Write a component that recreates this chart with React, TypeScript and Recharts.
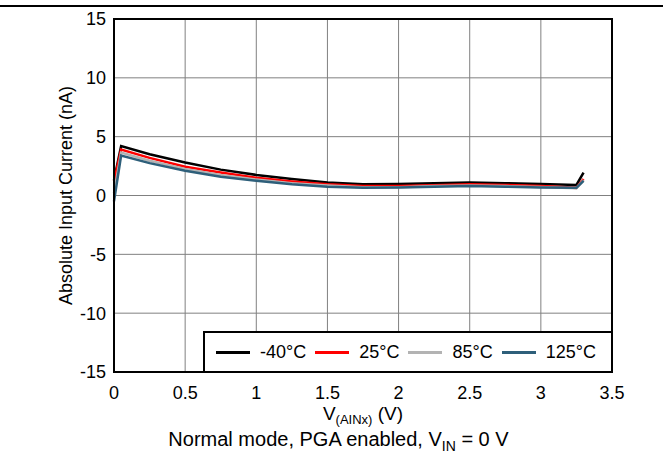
import { LineChart, Line, XAxis, YAxis, CartesianGrid } from 'recharts'

// V(AINx) sample points (V)
const VAIN = [0, 0.05, 0.25, 0.5, 0.75, 1, 1.25, 1.5, 1.75, 2, 2.25, 2.5, 2.75, 3, 3.25, 3.3]

// absolute input current (nA) per temperature
const I_M40 = [1.3, 4.2, 3.5, 2.8, 2.2, 1.75, 1.4, 1.1, 0.95, 0.97, 1.05, 1.1, 1.05, 0.97, 0.9, 1.95]
const I_25 = [1.2, 3.9, 3.2, 2.45, 1.95, 1.5, 1.2, 0.95, 0.8, 0.8, 0.88, 0.95, 0.9, 0.8, 0.65, 1.4]
const I_85 = [0.2, 3.65, 2.95, 2.25, 1.75, 1.35, 1.05, 0.85, 0.7, 0.7, 0.8, 0.85, 0.8, 0.72, 0.62, 1.3]
const I_125 = [-0.5, 3.4, 2.75, 2.1, 1.6, 1.25, 0.95, 0.75, 0.65, 0.67, 0.75, 0.8, 0.75, 0.68, 0.65, 1.25]

const X_TICKS = [0, 0.5, 1, 1.5, 2, 2.5, 3, 3.5]
const Y_TICKS = [-15, -10, -5, 0, 5, 10, 15]

const SERIES = [
  { key: 'm40', name: '-40°C', color: '#000000', values: I_M40 },
  { key: 't25', name: '25°C', color: '#ff0000', values: I_25 },
  { key: 't85', name: '85°C', color: '#b3b3b3', values: I_85 },
  { key: 't125', name: '125°C', color: '#2e5f7a', values: I_125 },
]

const data = VAIN.map((v, i) => {
  const row: Record<string, number> = { v }
  SERIES.forEach(s => (row[s.key] = s.values[i]))
  return row
})

const FONT = '"Liberation Sans", Arial, sans-serif'
const TICK = { fill: '#000', fontSize: 18, fontFamily: FONT }

export default function App() {
  return (
    <div style={{ position: 'relative', width: 663, height: 457, background: '#fff', fontFamily: FONT, color: '#000' }}>
      <style>{'body{margin:0}'}</style>
      {/* rule across the top */}
      <div style={{ position: 'absolute', left: 0, top: 5, width: 663, height: 2, background: '#000' }} />
      <LineChart width={663} height={457} data={data} margin={{ top: 19, right: 51, bottom: 55, left: 58 }}>
        <CartesianGrid stroke="#808080" strokeWidth={1} />
        <XAxis
          dataKey="v"
          type="number"
          domain={[0, 3.5]}
          ticks={X_TICKS}
          tick={TICK}
          tickLine={false}
          axisLine={false}
          tickMargin={8}
          height={30}
        />
        <YAxis
          type="number"
          domain={[-15, 15]}
          ticks={Y_TICKS}
          tick={TICK}
          tickLine={false}
          axisLine={false}
          width={56}
          label={{
            value: 'Absolute Input Current (nA)',
            angle: -90,
            position: 'insideLeft',
            offset: 8,
            style: { textAnchor: 'middle', fontSize: 18, fontFamily: FONT, fill: '#000' },
          }}
        />
        {SERIES.map(s => (
          <Line
            key={s.key}
            dataKey={s.key}
            name={s.name}
            stroke={s.color}
            strokeWidth={2.5}
            dot={false}
            type="linear"
            isAnimationActive={false}
          />
        ))}
      </LineChart>
      {/* plot frame */}
      <div
        style={{
          position: 'absolute',
          left: 113,
          top: 18,
          width: 500,
          height: 355,
          boxSizing: 'border-box',
          border: '2px solid #000',
          pointerEvents: 'none',
        }}
      />
      {/* legend box, inset in lower right of plot */}
      <div
        style={{
          position: 'absolute',
          left: 203,
          top: 331,
          width: 410,
          height: 42,
          boxSizing: 'border-box',
          border: '2.5px solid #000',
          background: '#fff',
          display: 'flex',
          alignItems: 'center',
          paddingLeft: 11,
          fontSize: 18,
        }}
      >
        {SERIES.map(s => (
          <div key={s.key} style={{ display: 'flex', alignItems: 'center', marginRight: 9 }}>
            <div style={{ width: 34, height: 3, background: s.color, marginRight: 10 }} />
            <span>{s.name}</span>
          </div>
        ))}
      </div>
      {/* x axis title */}
      <div style={{ position: 'absolute', left: 263, width: 200, top: 404, textAlign: 'center', fontSize: 19, lineHeight: '19px', whiteSpace: 'nowrap' }}>
        V<span style={{ fontSize: 13, position: 'relative', top: 4 }}>(AINx)</span> (V)
      </div>
      {/* caption */}
      <div style={{ position: 'absolute', left: 7, width: 663, top: 429, textAlign: 'center', fontSize: 20, lineHeight: '20px', whiteSpace: 'nowrap' }}>
        Normal mode, PGA enabled, V<span style={{ fontSize: 14, position: 'relative', top: 5 }}>IN</span> = 0 V
      </div>
    </div>
  )
}
